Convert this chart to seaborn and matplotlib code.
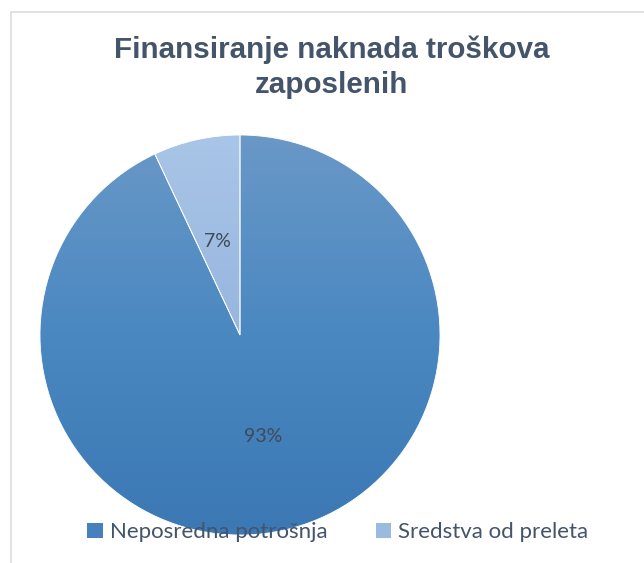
import numpy as np
import matplotlib
matplotlib.use("Agg")
import matplotlib.pyplot as plt
from matplotlib.colors import LinearSegmentedColormap
from matplotlib.patches import Patch
from matplotlib.lines import Line2D
import seaborn as sns

categories = ["Neposredna potrošnja", "Sredstva od preleta"]
values = [93, 7]
title = "Finansiranje naknada troškova\nzaposlenih"

sns.set_theme(style="white")
plt.rcParams['font.family'] = ['Lato', 'DejaVu Sans']

# top -> bottom gradient colours per slice
grad_colors = [sns.blend_palette(["#6A98C7", "#4A88C1", "#3B78B4"], 3),
               sns.blend_palette(["#A9C5E7", "#97B6DF", "#86A7D6"], 3)]
legend_colors = ["#4680BD", "#9BBAE0"]

fig = plt.figure(figsize=(6.44, 5.63), dpi=100)
fig.patch.set_facecolor("white")

# chart frame (left and top edges visible)
fig.add_artist(Line2D([11/644, 11/644], [0, 1 - 12/563], transform=fig.transFigure,
                      color="#D9DDE3", lw=1.2))
fig.add_artist(Line2D([11/644, 1], [1 - 12/563, 1 - 12/563], transform=fig.transFigure,
                      color="#D9DDE3", lw=1.2))

ax = fig.add_axes([40/644, (563-535)/563, 400/644, 400/563])
wedges, texts, autotexts = ax.pie(values, startangle=90, counterclock=False,
                                  autopct=lambda p: f"{p:.0f}%", pctdistance=0.52,
                                  radius=1.0,
                                  wedgeprops=dict(edgecolor="white", linewidth=0.6),
                                  textprops=dict(color="#404A56", fontsize=14))
grad = np.linspace(1, 0, 256).reshape(-1, 1)
for w, cols in zip(wedges, grad_colors):
    w.set_facecolor("none")
    cmap = LinearSegmentedColormap.from_list("g", cols[::-1])
    im = ax.imshow(grad, extent=[-1, 1, -1, 1], cmap=cmap, aspect="auto",
                   origin="upper", vmin=0, vmax=1, zorder=0.5)
    im.set_clip_path(w)
for t in autotexts:
    t.set_zorder(5)
# small slice label sits a little lower in the reference
x7, y7 = autotexts[1].get_position()
autotexts[1].set_position((x7, y7 - 0.04))
ax.set_xlim(-1.0, 1.0)
ax.set_ylim(-1.0, 1.0)
ax.set_aspect("equal")
ax.axis("off")

fig.text(332/644, 1 - 67/563, title, ha="center", va="center", fontsize=21.3,
         fontweight="bold", color="#44546A", family=["Liberation Sans", "DejaVu Sans"],
         linespacing=1.3)

handles = [Patch(facecolor=c, edgecolor="none") for c in legend_colors]
leg = fig.legend(handles, categories, loc="center", bbox_to_anchor=(338/644, 1 - 532/563),
                 ncol=2, frameon=False, fontsize=16, handlelength=0.7, handleheight=0.7,
                 handletextpad=0.3, columnspacing=2.2, borderpad=0, borderaxespad=0)
for t in leg.get_texts():
    t.set_color("#44546A")
for h in leg.legend_handles:
    h.set_height(11)
    h.set_width(11)

fig.savefig("out.png", dpi=100, facecolor="white")
